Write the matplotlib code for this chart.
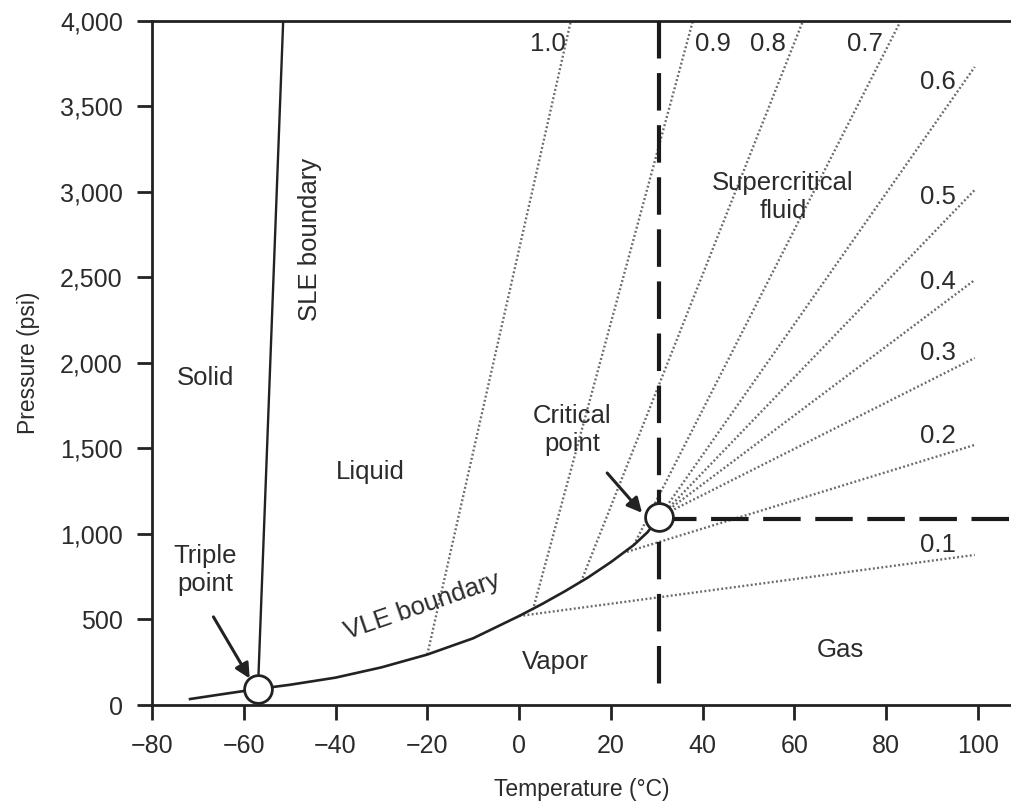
import numpy as np
import matplotlib.pyplot as plt
from matplotlib.ticker import FuncFormatter

plt.rcParams['font.family'] = ['Liberation Sans', 'DejaVu Sans']

# VLE boundary (temperature in C, pressure in psi)
vle_t = [-71.7, -65, -56.9, -50, -40, -30, -20, -10, 0, 5, 10, 15, 20, 25, 28, 30.5]
vle_p = [35, 62, 94, 118, 160, 220, 295, 390, 520, 590, 665, 745, 835, 935, 1010, 1099]

# SLE boundary
sle_t = [-56.9, -51.4]
sle_p = [94, 4000]

triple = (-56.9, 94)
critical = (30.5, 1099)

# density lines (g/cm3): start on the VLE curve, straight to the end point
dens_labels = ['1.0', '0.9', '0.8', '0.7', '0.6', '0.5', '0.4', '0.3', '0.2', '0.1']
dens_t0 = [-20, 3, 13.5, 25, 29.5, 30.2, 30.5, 30.5, 23.5, 0]
dens_p0 = [295, 555, 720, 935, 1060, 1085, 1099, 1099, 895, 520]
dens_t1 = [11.3, 37.9, 61.9, 83.2, 99.3, 99.3, 99.3, 99.3, 99.3, 99.3]
dens_p1 = [4000, 4000, 4000, 4000, 3729, 3010, 2484, 2028, 1520, 877]
# label positions
lab_t = [6.3, 42.3, 54.2, 75.4, 91.3, 91.3, 91.3, 91.3, 91.3, 91.3]
lab_p = [3863, 3863, 3863, 3863, 3640, 2970, 2470, 2060, 1570, 935]

txt = '#2b2b2b'
fs = 18.5
fig = plt.figure(figsize=(10.11, 8.05), dpi=100)
ax = fig.add_axes([0.1503, 0.1242, 0.8497, 0.8503])

for t0, p0, t1, p1 in zip(dens_t0, dens_p0, dens_t1, dens_p1):
    ax.plot([t0, t1], [p0, p1], color='#6a6a6a', lw=1.7,
            linestyle=(0, (0.8, 1.0)), zorder=2)
for lab, t, p in zip(dens_labels, lab_t, lab_p):
    ax.text(t, p, lab, fontsize=fs, color=txt, ha='center', va='center')

ax.plot(vle_t, vle_p, color='#222222', lw=1.9, zorder=3)
ax.plot(sle_t, sle_p, color='#222222', lw=1.7, zorder=3)

# critical lines
ax.plot([critical[0], critical[0]], [4000, 85], color='#1a1a1a', lw=3,
        linestyle=(0, (9, 3.5)), zorder=3)
ax.plot([critical[0], 108], [1087, 1087], color='#1a1a1a', lw=3,
        linestyle=(0, (9, 3.5)), zorder=3)

for pt in (triple, critical):
    ax.plot(*pt, marker='o', ms=20, mfc='white', mec='#222222', mew=2, zorder=5)

ax.annotate('', xy=(-58.7, 155), xytext=(-66.6, 515),
            arrowprops=dict(arrowstyle='-|>', color='#222222', lw=2.2,
                            mutation_scale=22, shrinkA=0, shrinkB=0))
ax.annotate('', xy=(26.8, 1123), xytext=(19.2, 1356),
            arrowprops=dict(arrowstyle='-|>', color='#222222', lw=2.2,
                            mutation_scale=22, shrinkA=0, shrinkB=0))

ax.text(-68.4, 1911, 'Solid', fontsize=fs, color=txt, ha='center', va='center')
ax.text(-32.5, 1362, 'Liquid', fontsize=fs, color=txt, ha='center', va='center')
ax.text(7.8, 251, 'Vapor', fontsize=fs, color=txt, ha='center', va='center')
ax.text(70, 321, 'Gas', fontsize=fs, color=txt, ha='center', va='center')
ax.text(57.5, 2969, 'Supercritical\nfluid', fontsize=fs, color=txt,
        ha='center', va='center', linespacing=1.2)
ax.text(11.5, 1607, 'Critical\npoint', fontsize=fs, color=txt,
        ha='center', va='center', linespacing=1.2)
ax.text(-68.4, 789, 'Triple\npoint', fontsize=fs, color=txt,
        ha='center', va='center', linespacing=1.2)
ax.text(-45.5, 2718, 'SLE boundary', fontsize=fs, color=txt,
        ha='center', va='center', rotation=90)
ax.text(-21.1, 579, 'VLE boundary', fontsize=fs, color=txt,
        ha='center', va='center', rotation=19)

ax.set_xlim(-80, 107.2)
ax.set_ylim(0, 4000)
ax.set_xticks(np.arange(-80, 101, 20))
ax.set_yticks(np.arange(0, 4001, 500))
ax.yaxis.set_major_formatter(FuncFormatter(lambda v, _: f'{int(v):,}'))
ax.tick_params(direction='out', length=11, width=2, labelsize=18,
               colors='#222222', labelcolor=txt, pad=10)
for s in ('left', 'bottom', 'top'):
    ax.spines[s].set_linewidth(2)
    ax.spines[s].set_color('#222222')
ax.spines['right'].set_visible(False)
ax.set_xlabel('Temperature (°C)', fontsize=16.5, color=txt, labelpad=14)
ax.set_ylabel('Pressure (psi)', fontsize=16.5, color=txt, labelpad=14)

fig.savefig('out.png', dpi=100)
